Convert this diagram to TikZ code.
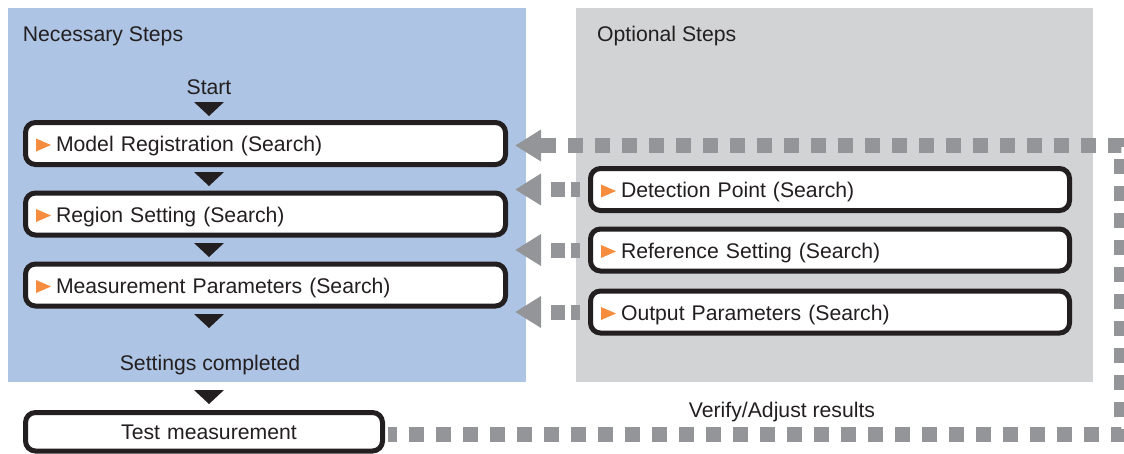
\documentclass[tikz,border=0pt]{standalone}
\usepackage{fontspec}
\setmainfont{Liberation Sans}
\usetikzlibrary{arrows.meta,calc}
\definecolor{panelblue}{RGB}{173,196,228}
\definecolor{panelgray}{RGB}{209,211,212}
\definecolor{dashgray}{RGB}{147,149,152}
\definecolor{tri}{RGB}{245,140,62}
\definecolor{ink}{RGB}{35,31,32}
\newcommand\mydowntri[1]{\fill[ink] (194,#1) -- ++(30,0) -- ++(-15,14) -- cycle;}
\newcommand\myorangetri[1]{\fill[tri] ($(#1.west)+(13,-5)$) -- ++(15,6.5) -- ++(-15,6.5) -- cycle;}
\begin{document}
\begin{tikzpicture}[x=1pt,y=-1pt,
  every node/.style={font=\fontsize{21.2}{25}\selectfont, text=ink},
  lbl/.style={inner sep=0pt},
  stepbox/.style={draw=ink, line width=5pt, rounded corners=10pt, fill=white,
    minimum height=42pt, text height=16pt, text depth=0pt, align=left,
    inner xsep=30.5pt},
  leftbox/.style={stepbox, minimum width=480pt, text width=419pt},
  optbox/.style={stepbox, minimum width=479pt, text width=418pt},
  shortdash/.style={draw=dashgray, line width=15pt,
    dash pattern=on 9pt off 6pt on 14pt off 30pt,
    -{Triangle[length=26pt,width=30pt]}},
  bigdash/.style={draw=dashgray, line width=15pt, line join=miter,
    dash pattern=on 15pt off 12pt, dash phase=6pt,
    -{Triangle[length=26pt,width=30pt]}}]
\useasboundingbox (0,0) rectangle (1124,453);
% panels
\fill[panelblue] (8,8) rectangle (526,382);
\fill[panelgray] (576,8) rectangle (1093,382);
% titles
\node[lbl, anchor=base west] (nec) at (22.7,41) {Necessary Steps};
\node[lbl, anchor=base west] (opt) at (597,41) {Optional Steps};
\node[lbl, anchor=base] (start) at (209,94) {Start};
\node[lbl, anchor=base] (done) at (210,370) {Settings completed};
\node[lbl, anchor=base] (verify) at (782,417) {Verify/Adjust results};
% necessary steps
\node[leftbox] (m) at (265.5,143.5) {Model Registration (Search)};
\node[leftbox] (r) at (265.5,214) {Region Setting (Search)};
\node[leftbox] (p) at (265.5,285) {Measurement Parameters (Search)};
\myorangetri{m}
\myorangetri{r}
\myorangetri{p}
\mydowntri{102}
\mydowntri{172}
\mydowntri{243}
\mydowntri{314}
\mydowntri{390}
% test measurement
\node[stepbox, minimum width=357pt, minimum height=38.5pt, text width=357pt,
  inner xsep=0pt, align=center] (test) at (204,431.75) {\hspace*{10pt}Test measurement};
% optional steps
\node[optbox] (det) at (830,189.5) {Detection Point (Search)};
\node[optbox] (ref) at (830,250) {Reference Setting (Search)};
\node[optbox] (out) at (830,312) {Output Parameters (Search)};
\myorangetri{det}
\myorangetri{ref}
\myorangetri{out}
% connectors
\coordinate (tipx) at (515,0);
\draw[shortdash] ($(det.west)+(-8,0)$) -- (det.west -| tipx);
\draw[shortdash] ($(ref.west)+(-8,0)$) -- (ref.west -| tipx);
\draw[shortdash] ($(out.west)+(-8,0)$) -- (out.west -| tipx);
\coordinate (br) at (1121,434);
\coordinate (tr) at (1121,145.5);
\draw[bigdash] ($(test.east |- br)+(3,0)$) -- (br) -- (tr) -- (tipx |- tr);
\end{tikzpicture}
\end{document}
